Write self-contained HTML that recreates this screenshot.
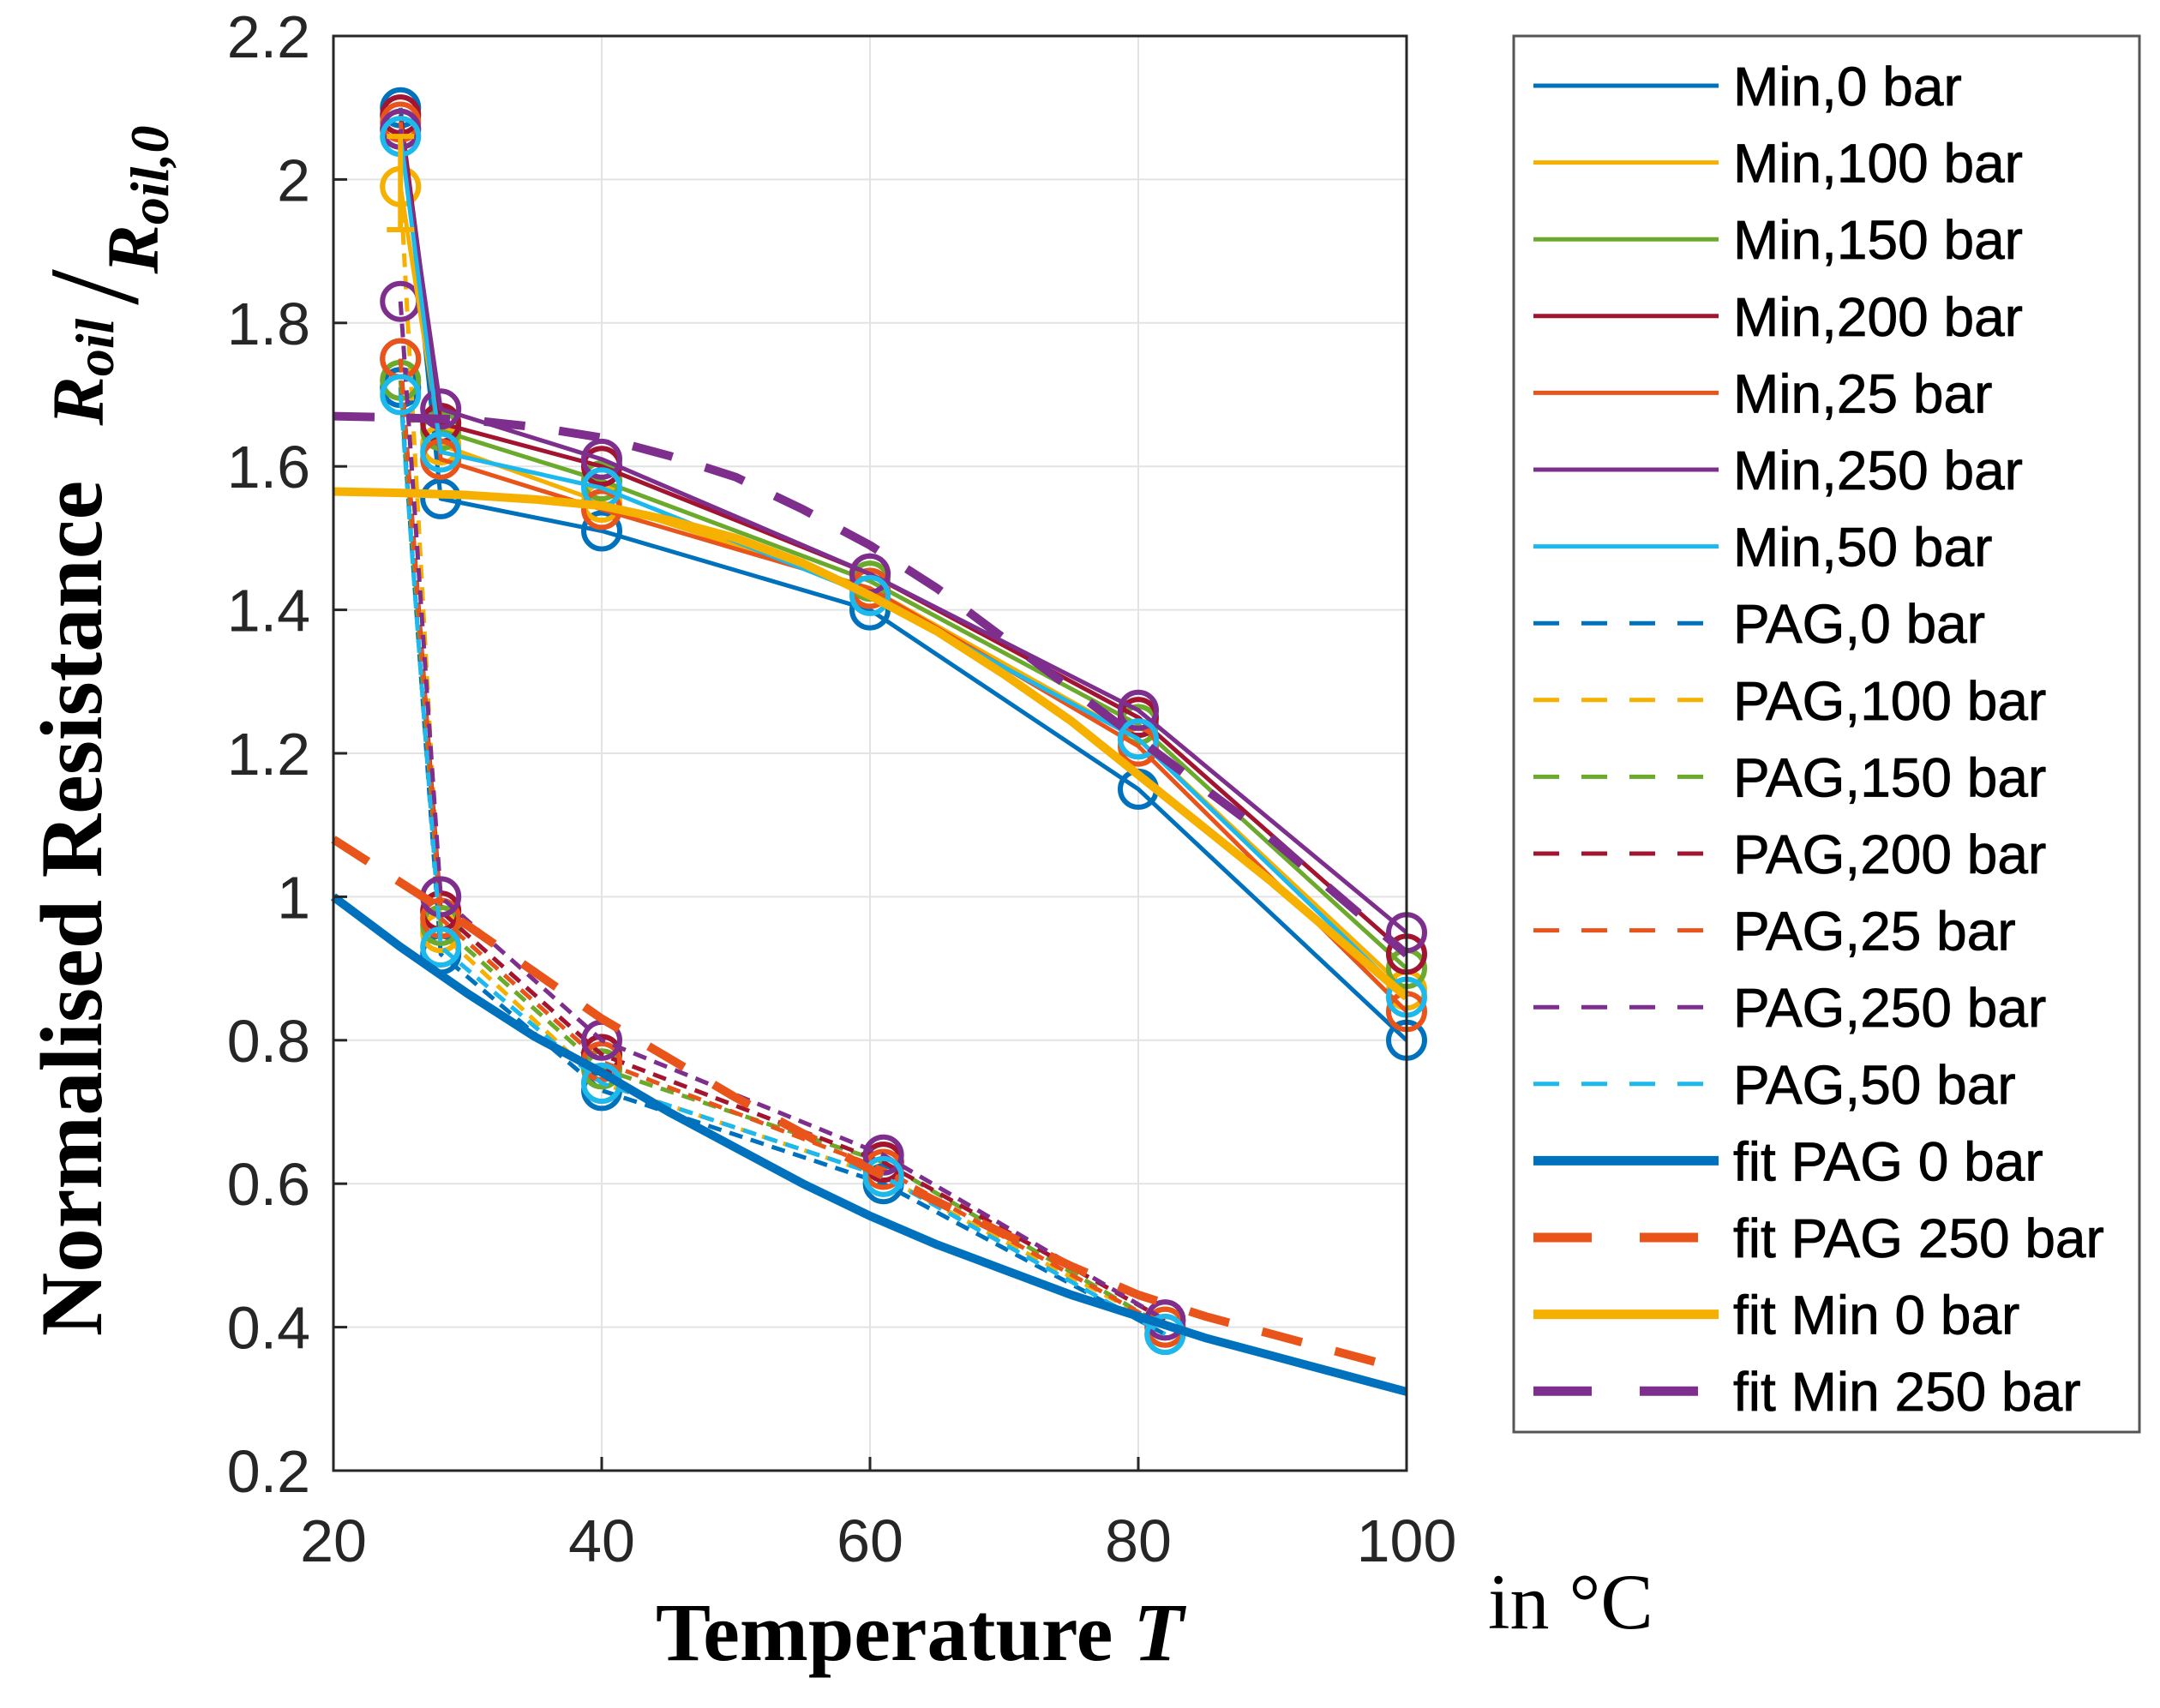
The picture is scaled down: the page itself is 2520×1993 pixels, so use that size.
<!DOCTYPE html>
<html><head><meta charset="utf-8"><style>
html,body{margin:0;padding:0;background:#fff;}
svg{display:block;}
</style></head><body>
<svg id="chart" width="2520" height="1993" viewBox="0 0 2520 1993" xmlns="http://www.w3.org/2000/svg">
<g id="grid"></g>
<g id="plot"></g>
<rect x="389" y="42" width="1252" height="1674" fill="none" stroke="#262626" stroke-width="3"/>
<g id="ticks" font-family="Liberation Sans, sans-serif" font-size="70" fill="#262626"></g>
<text x="1073" y="1937" text-anchor="middle" font-family="Liberation Serif, serif" font-weight="bold" font-size="96">Temperature <tspan font-style="italic">T</tspan></text>
<text x="1736" y="1900" font-family="Liberation Serif, serif" font-size="92">in °C</text>
<text transform="translate(118,1060) rotate(-90)" x="0" y="0" text-anchor="middle" font-family="Liberation Serif, serif" font-weight="bold" font-size="103">Normalised Resistance</text>
<g font-family="Liberation Serif, serif" font-weight="bold" font-style="italic">
<text transform="translate(120,434) rotate(-90)" text-anchor="middle" font-size="86">R<tspan font-size="64" dy="12">oil</tspan></text>
<text transform="translate(160,335) rotate(-90)" text-anchor="middle" font-size="150" font-style="normal" font-weight="normal">/</text>
<text transform="translate(184,233) rotate(-90)" text-anchor="middle" font-size="86">R<tspan font-size="64" dy="12">oil,0</tspan></text>
</g>
<g id="legend"></g>
</svg>
<script>
const NS="http://www.w3.org/2000/svg";
const X0=389,X1=1641,Y0=1716,Y1=42;
function sx(v){return X0+(v-20)/(100-20)*(X1-X0);}
function sy(v){return Y0-(v-0.2)/(2.2-0.2)*(Y0-Y1);}
const xTicks=[20,40,60,80,100];
const yTicks=[0.2,0.4,0.6,0.8,1,1.2,1.4,1.6,1.8,2,2.2];
const yTickLabels=["0.2","0.4","0.6","0.8","1","1.2","1.4","1.6","1.8","2","2.2"];
const minT=[25,28,40,60,80,100];
const min0=[2.10,1.555,1.51,1.40,1.15,0.80];
const min100=[1.99,1.63,1.55,1.43,1.22,0.87];
const min150=[2.07,1.65,1.58,1.44,1.24,0.90];
const min200=[2.09,1.66,1.60,1.45,1.25,0.92];
const min25=[2.08,1.61,1.54,1.43,1.21,0.84];
const min250=[2.07,1.68,1.61,1.45,1.26,0.95];
const min50=[2.06,1.62,1.57,1.42,1.22,0.86];
const pagT=[25,28,40,61,82];
const pag0=[1.71,0.92,0.73,0.60,0.39];
const pag100=[1.99,0.95,0.74,0.61,0.40];
const pag150=[1.72,0.96,0.76,0.63,0.40];
const pag200=[1.75,0.98,0.78,0.63,0.41];
const pag25=[1.75,0.97,0.77,0.62,0.40];
const pag250=[1.83,1.00,0.80,0.64,0.41];
const pag50=[1.70,0.93,0.74,0.61,0.39];
const fitT=[20,25,30,35,40,45,50,55,60,65,70,75,80,85,90,95,100];
const fitPag0=[1.0,0.93,0.865,0.805,0.755,0.70,0.65,0.60,0.555,0.515,0.48,0.445,0.415,0.385,0.36,0.335,0.31];
const fitPag250=[1.08,1.02,0.96,0.895,0.83,0.775,0.72,0.67,0.62,0.575,0.53,0.485,0.445,0.415,0.39,0.365,0.34];
const fitMin0=[1.565,1.563,1.56,1.554,1.545,1.525,1.50,1.465,1.42,1.37,1.31,1.245,1.17,1.095,1.02,0.94,0.86];
const fitMin250=[1.67,1.668,1.665,1.655,1.64,1.615,1.585,1.54,1.49,1.43,1.36,1.29,1.22,1.15,1.08,1.00,0.92];
const C={blue:"#0072BD",yel:"#F5B000",grn:"#6BAA2C",red:"#A2142F",org:"#E8541A",pur:"#7E2F8E",cyan:"#1DB8EC"};
function mk(tag,at,parent){const e=document.createElementNS(NS,tag);for(const k in at)e.setAttribute(k,at[k]);parent.appendChild(e);return e;}
const grid=document.getElementById('grid'),plot=document.getElementById('plot'),ticks=document.getElementById('ticks'),leg=document.getElementById('legend');
xTicks.forEach((t,i)=>{
 const g=mk('line',{x1:sx(t),x2:sx(t),y1:Y0,y2:Y1,stroke:"#e3e3e3","stroke-width":2},grid);
 
 
 const tk=mk('line',{x1:sx(t),x2:sx(t),y1:Y0,y2:Y0-16,stroke:"#262626","stroke-width":3},ticks);
 
 
 const tx=mk('text',{x:sx(t),y:1822,"text-anchor":"middle"},ticks);tx.textContent=String(t);
 
 
});
yTicks.forEach((t,i)=>{
 const g=mk('line',{x1:X0,x2:X1,y1:sy(t),y2:sy(t),stroke:"#e3e3e3","stroke-width":2},grid);
 
 
 const tk=mk('line',{x1:X0,x2:X0+16,y1:sy(t),y2:sy(t),stroke:"#262626","stroke-width":3},ticks);
 
 
 const tx=mk('text',{x:362,y:sy(t)+25,"text-anchor":"end"},ticks);tx.textContent=yTickLabels[i];
 
 
});
function pts(xs,ys){return xs.map((x,i)=>sx(x)+","+sy(ys[i])).join(" ");}
function series(name,xs,ys,color,dash,width,markers){
 const g=mk('g',{},plot);
 
 
 const l=mk('polyline',{points:pts(xs,ys),fill:"none",stroke:color,"stroke-width":width,"stroke-dasharray":dash||"none","stroke-linejoin":"round"},g);
 
 
 if(markers)xs.forEach((x,i)=>{
  const c=mk('circle',{cx:sx(x),cy:sy(ys[i]),r:21,fill:"none",stroke:color,"stroke-width":6},g);
  
  
 });
}
const pd="16 10";
series('pag-0-bar',pagT,pag0,C.blue,pd,5,true);
series('pag-100-bar',pagT,pag100,C.yel,pd,5,true);
series('pag-150-bar',pagT,pag150,C.grn,pd,5,true);
series('pag-200-bar',pagT,pag200,C.red,pd,5,true);
series('pag-25-bar',pagT,pag25,C.org,pd,5,true);
series('pag-250-bar',pagT,pag250,C.pur,pd,5,true);
series('pag-50-bar',pagT,pag50,C.cyan,pd,5,true);
series('min-0-bar',minT,min0,C.blue,null,5,true);
series('min-100-bar',minT,min100,C.yel,null,5,true);
series('min-150-bar',minT,min150,C.grn,null,5,true);
series('min-200-bar',minT,min200,C.red,null,5,true);
series('min-25-bar',minT,min25,C.org,null,5,true);
series('min-250-bar',minT,min250,C.pur,null,5,true);
series('min-50-bar',minT,min50,C.cyan,null,5,true);
const eb=mk('path',{d:`M${sx(25)},${sy(1.93)}V${sy(2.06)}M${sx(25)-16},${sy(1.93)}h32M${sx(25)-16},${sy(2.06)}h32`,stroke:C.yel,"stroke-width":6,fill:"none"},plot);


series('fit-pag-0-bar',fitT,fitPag0,C.blue,null,10,false);
series('fit-pag-250-bar',fitT,fitPag250,C.org,"48 40",10,false);
series('fit-min-0-bar',fitT,fitMin0,C.yel,null,10,false);
series('fit-min-250-bar',fitT,fitMin250,C.pur,"48 40",10,false);
const lb=mk('rect',{x:1766,y:42,width:730,height:1629,fill:"#fff",stroke:"#555","stroke-width":3},leg);


const legNames=["Min,0 bar","Min,100 bar","Min,150 bar","Min,200 bar","Min,25 bar","Min,250 bar","Min,50 bar","PAG,0 bar","PAG,100 bar","PAG,150 bar","PAG,200 bar","PAG,25 bar","PAG,250 bar","PAG,50 bar","fit PAG 0 bar","fit PAG 250 bar","fit Min 0 bar","fit Min 250 bar"];
const legCols=[C.blue,C.yel,C.grn,C.red,C.org,C.pur,C.cyan,C.blue,C.yel,C.grn,C.red,C.org,C.pur,C.cyan,C.blue,C.org,C.yel,C.pur];
legNames.forEach((n,i)=>{
 const y=100+i*89.6;
 const g=mk('g',{},leg);
 
 
 let dash="none",w=5;
 if(i>=7&&i<14)dash="30 26";
 if(i>=14){w=11;if(i===15||i===17)dash="68 56";}
 mk('line',{x1:1789,x2:2005,y1:y,y2:y,stroke:legCols[i],"stroke-width":w,"stroke-dasharray":dash},g);
 const t=mk('text',{x:2022,y:y+23,"font-family":"Liberation Sans, sans-serif","font-size":64,fill:"#000",stroke:"#000","stroke-width":0.8},g);
 t.textContent=n;
});
</script>
</body></html>
